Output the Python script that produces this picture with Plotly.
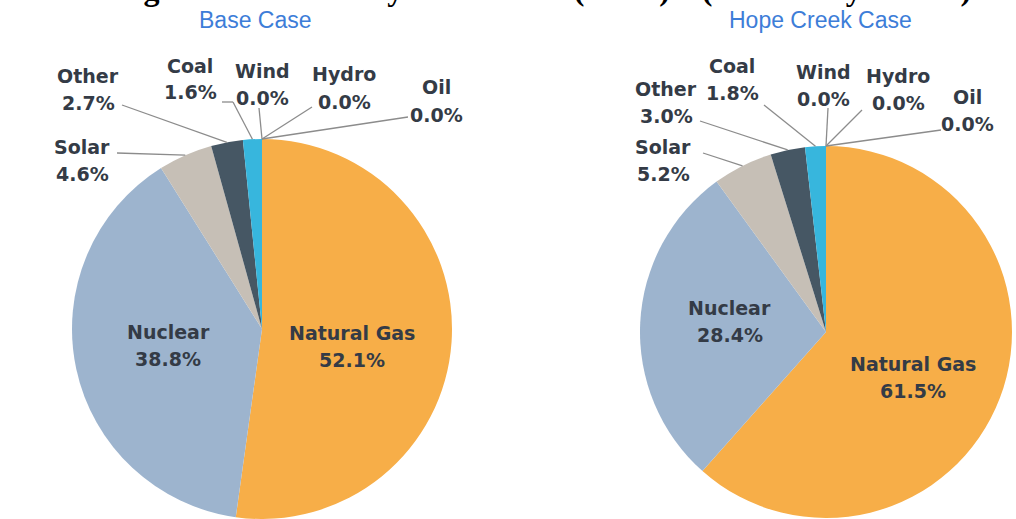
import math
import plotly.graph_objects as go

# ---------------- data ----------------
labels = ["Natural Gas", "Nuclear", "Solar", "Other", "Coal", "Wind", "Hydro", "Oil"]
base_values = [52.1, 38.8, 4.6, 2.7, 1.6, 0.0, 0.0, 0.0]
hope_values = [61.5, 28.4, 5.2, 3.0, 1.8, 0.0, 0.0, 0.0]
case_titles = ["Base Case", "Hope Creek Case"]
figure_title = "Figure 5: New Jersey Generation (GWh) \u2013 (Post-Study Period)"

# ---------------- styles / layout ----------------
W, H = 1016, 519
colors = ["#F7AE48", "#9DB4CE", "#C6BFB6", "#465764", "#37B6DD", "#6FBF4B", "#2E75B6", "#7F7F7F"]
text_color = "#343B46"
line_color = "#8C8C8C"
label_font = dict(family="DejaVu Sans", size=19, color=text_color, weight="bold")
LINE_GAP = 27  # pixel distance between the two lines of a label

pies = [
    dict(cx=262, cy=329, r=190, title_x=255,
         inner={"Natural Gas": (0.48, 7), "Nuclear": (0.50, 2)},
         outer={  # label centre, leader start, optional elbow
             "Solar": ((82, 160), (117, 153), None),
             "Other": ((88, 89), (122, 105), None),
             "Coal": ((190, 79), (222, 102), (233, 102)),
             "Wind": ((262, 84), (259, 108), None),
             "Hydro": ((344, 88), (312, 107), None),
             "Oil": ((436, 101), (408, 117), None),
         }),
    dict(cx=826, cy=332, r=186, title_x=820,
         inner={"Natural Gas": (0.53, 7), "Nuclear": (0.52, 3.5)},
         outer={
             "Solar": ((663, 160), (703, 153), None),
             "Other": ((666, 102), (700, 121), None),
             "Coal": ((732, 80), (764, 105), None),
             "Wind": ((823, 85), (828, 108), None),
             "Hydro": ((898, 89), (862, 110), None),
             "Oil": ((967, 110), (941, 130), None),
         }),
]


def paper(px, py):
    return px / W, 1 - py / H


def polar(cfg, theta_deg, dist):
    t = math.radians(theta_deg)
    return cfg["cx"] + dist * math.sin(t), cfg["cy"] - dist * math.cos(t)


annotations = []
shapes = []


def add_label(lab, v, px, py):
    for txt, dy in ((lab, -LINE_GAP / 2), (f"{v:.1f}%", LINE_GAP / 2)):
        x, y = paper(px, py + dy)
        annotations.append(dict(x=x, y=y, xref="paper", yref="paper", showarrow=False,
                                xanchor="center", yanchor="middle",
                                text=txt, font=label_font, align="center"))


fig = go.Figure()

for vals, cfg, ttl in zip([base_values, hope_values], pies, case_titles):
    cx, cy, r = cfg["cx"], cfg["cy"], cfg["r"]
    y0 = max(0.0, 1 - (cy + r) / H)
    y1 = min(1.0, 1 - (cy - r) / H)
    fig.add_trace(go.Pie(
        labels=labels, values=vals, sort=False, direction="clockwise", rotation=0,
        marker=dict(colors=colors, line=dict(width=0)),
        textinfo="none", hoverinfo="skip", showlegend=False,
        domain=dict(x=[(cx - r) / W, (cx + r) / W], y=[y0, y1]),
    ))

    total = sum(vals)
    cum = 0.0
    mids = {}
    for lab, v in zip(labels, vals):
        mids[lab] = (cum + v / 2) / total * 360
        cum += v

    # inside labels
    for lab, (frac, dang) in cfg["inner"].items():
        v = vals[labels.index(lab)]
        px, py = polar(cfg, mids[lab] + dang, frac * r)
        add_label(lab, v, px, py)

    # outside labels with leader lines
    for lab, (ctr, start, elbow) in cfg["outer"].items():
        v = vals[labels.index(lab)]
        add_label(lab, v, *ctr)
        end = polar(cfg, mids[lab], r)
        pts = [start] + ([elbow] if elbow else []) + [end]
        for a, b in zip(pts[:-1], pts[1:]):
            xa, ya = paper(*a)
            xb, yb = paper(*b)
            shapes.append(dict(type="line", xref="paper", yref="paper", x0=xa, y0=ya, x1=xb, y1=yb,
                               line=dict(color=line_color, width=1.3)))

    # case title
    tx, ty = paper(cfg["title_x"], 20)
    annotations.append(dict(x=tx, y=ty, xref="paper", yref="paper", showarrow=False, text=ttl,
                            xanchor="center", yanchor="middle",
                            font=dict(family="Liberation Sans", size=23, color="#3D7DD8")))

# clipped figure title at the very top
fx, fy = paper(543, 9)
annotations.append(dict(x=fx, y=fy, xref="paper", yref="paper", showarrow=False,
                        xanchor="center", yanchor="bottom",
                        text=f"<b>{figure_title}</b>",
                        font=dict(family="Liberation Serif", size=32, color="#000000")))

fig.update_layout(
    width=W, height=H, margin=dict(l=0, r=0, t=0, b=0),
    paper_bgcolor="white", plot_bgcolor="white",
    annotations=annotations, shapes=shapes, showlegend=False,
)

fig.write_html("out.html", config={"displayModeBar": False},
               post_script="document.body.style.margin='0';document.body.style.overflow='hidden';")
